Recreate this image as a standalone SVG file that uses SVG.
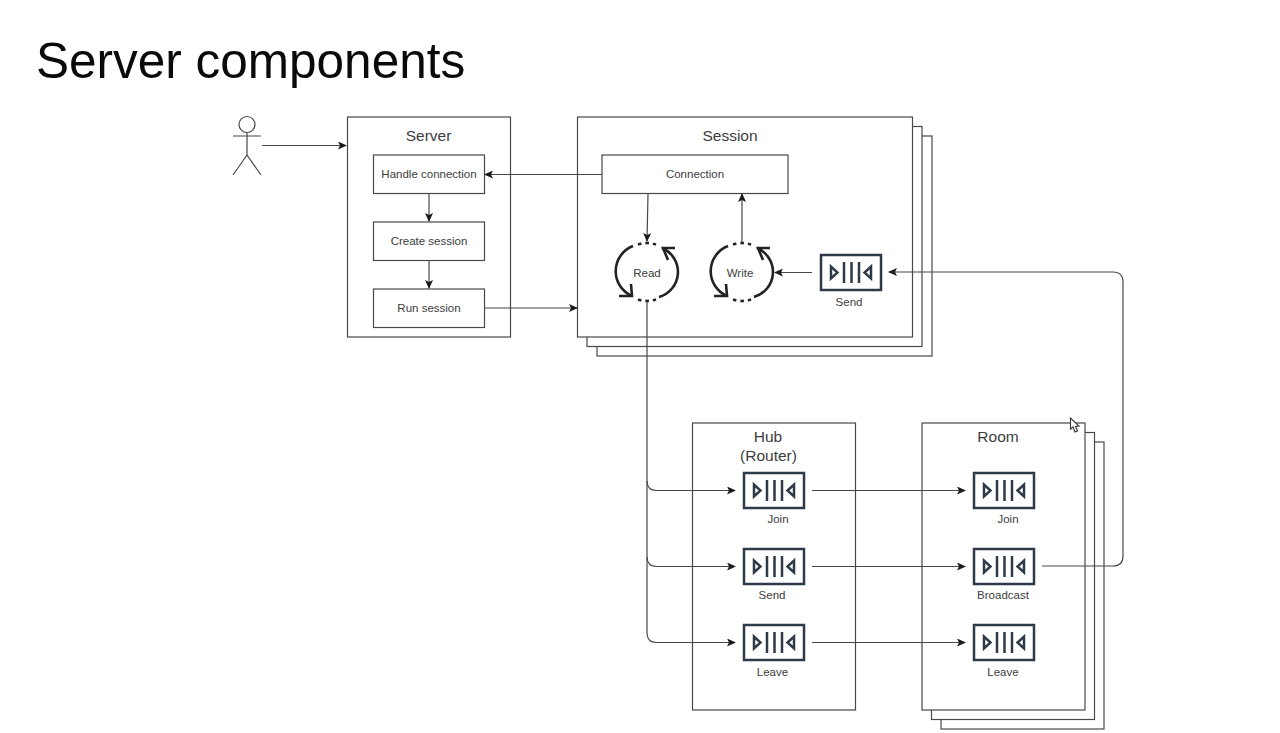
<svg xmlns="http://www.w3.org/2000/svg" width="1280" height="733" viewBox="0 0 1280 733">
<style>
text{font-family:"Liberation Sans",Arial,sans-serif;fill:#3d3d3d;text-anchor:middle}
.title{font-size:49.500px;fill:#0a0a0a;text-anchor:start}
.h{font-size:15.500px}
.s{font-size:11.500px}
.box{fill:#fff;stroke:#484848;stroke-width:1.2}
.line{fill:none;stroke:#484848;stroke-width:1.2}
.q{fill:none;stroke:#2f3a49;stroke-width:2.5}
.loop{fill:none;stroke:#222;stroke-width:2.600}
.dots{fill:none;stroke:#222;stroke-width:2.600;stroke-dasharray:3.500 4}
</style>
<defs>
<marker id="arr" markerWidth="9" markerHeight="8" refX="8" refY="4" orient="auto" markerUnits="userSpaceOnUse"><path d="M0 0L9 4L0 8L2 4Z" fill="#1c1c1c"/></marker>
<symbol id="queue" overflow="visible">
<rect x="0" y="0" width="60" height="35" class="q"/>
<path d="M10 11.500L10 23.500L16.500 17.500Z" class="q"/>
<path d="M50 11.500L50 23.500L43.500 17.500Z" class="q"/>
<path d="M23 7V28M30.500 7V28M38 7V28" class="q"/>
</symbol>
<g id="cycle">
<path d="M-14 -26A27 27 0 0 0 -15 24" class="loop"/>
<path d="M-16 12L-15 24L-28 24" class="loop"/>
<path d="M12 25A26 26 0 0 0 15 -24" class="loop"/>
<path d="M21 -12L16 -24L28 -24" class="loop"/>
<path d="M-9 -27.500A29 29 0 0 1 9 -27.500" class="dots"/>
<path d="M-9 27.500A29 29 0 0 0 9 27.500" class="dots"/>
</g>
</defs>
<rect width="1280" height="733" fill="#fff"/>
<text class="title" x="36" y="78">Server components</text>

<g id="user" class="line">
<circle cx="247" cy="124.500" r="8"/>
<path d="M247 132.500V155M233 136H261M247 155L233 175M247 155L261 175"/>
</g>

<g id="server">
<rect class="box" x="347.500" y="117" width="163" height="220"/>
<text class="h" x="428.500" y="141">Server</text>
</g>
<g id="handle-connection"><rect class="box" x="373.500" y="155" width="111" height="38.500"/><text class="s" x="429" y="178">Handle connection</text></g>
<g id="create-session"><rect class="box" x="373.500" y="222" width="111" height="38.500"/><text class="s" x="429" y="245">Create session</text></g>
<g id="run-session"><rect class="box" x="373.500" y="289" width="111" height="38.500"/><text class="s" x="429" y="312">Run session</text></g>

<g id="session">
<rect class="box" x="597" y="136" width="335" height="220"/>
<rect class="box" x="587" y="126.500" width="335" height="220"/>
<rect class="box" x="577.500" y="117" width="335" height="220"/>
<text class="h" x="730" y="141">Session</text>
</g>
<g id="connection"><rect class="box" x="602" y="155" width="186" height="38.500"/><text class="s" x="695" y="178">Connection</text></g>
<g id="read"><use href="#cycle" x="647" y="272"/><text class="s" x="647" y="277">Read</text></g>
<g id="write"><use href="#cycle" x="742" y="272"/><text class="s" x="740" y="277">Write</text></g>
<g id="session-send"><use href="#queue" x="821" y="255"/><text class="s" x="849" y="306">Send</text></g>

<g id="hub">
<rect class="box" x="692.500" y="423" width="163" height="287"/>
<text class="h" x="768" y="442">Hub</text>
<text class="h" x="768.500" y="461">(Router)</text>
</g>
<g id="hub-join"><use href="#queue" x="744" y="473"/><text class="s" x="778" y="523">Join</text></g>
<g id="hub-send"><use href="#queue" x="744" y="549"/><text class="s" x="772" y="599">Send</text></g>
<g id="hub-leave"><use href="#queue" x="744" y="625"/><text class="s" x="772.500" y="676">Leave</text></g>

<g id="room">
<rect class="box" x="941" y="442" width="163" height="287"/>
<rect class="box" x="931.500" y="432.500" width="163" height="287"/>
<rect class="box" x="922" y="423" width="163" height="287"/>
<text class="h" x="998" y="442">Room</text>
</g>
<g id="room-join"><use href="#queue" x="974" y="473"/><text class="s" x="1008" y="523">Join</text></g>
<g id="room-broadcast"><use href="#queue" x="974" y="549"/><text class="s" x="1003" y="599">Broadcast</text></g>
<g id="room-leave"><use href="#queue" x="974" y="625"/><text class="s" x="1003" y="676">Leave</text></g>

<g id="connectors" class="line">
<path d="M262 145.500H346" marker-end="url(#arr)"/>
<path d="M602 174.500H485" marker-end="url(#arr)"/>
<path d="M429 193.500V221" marker-end="url(#arr)"/>
<path d="M429 260.500V288" marker-end="url(#arr)"/>
<path d="M484.500 308H577" marker-end="url(#arr)"/>
<path d="M648 194L647 241" marker-end="url(#arr)"/>
<path d="M742 242V194" marker-end="url(#arr)"/>
<path d="M812 272.500H775" marker-end="url(#arr)"/>
<path d="M1042 566H1113Q1123 566 1123 556V282Q1123 272 1113 272H889" marker-end="url(#arr)"/>
<path d="M647 302V481Q647 490.500 657 490.500H735" marker-end="url(#arr)"/>
<path d="M647 481V557Q647 566.500 657 566.500H735" marker-end="url(#arr)"/>
<path d="M647 557V633Q647 642.500 657 642.500H735" marker-end="url(#arr)"/>
<path d="M812 490.500H965" marker-end="url(#arr)"/>
<path d="M812 566.500H965" marker-end="url(#arr)"/>
<path d="M812 642.500H965" marker-end="url(#arr)"/>
</g>

<path id="cursor" d="M1070.500 418V429L1073 427L1075 432L1077.500 431L1075.500 426.500L1079 426Z" fill="#fff" stroke="#333" stroke-width="1.100"/>
</svg>
